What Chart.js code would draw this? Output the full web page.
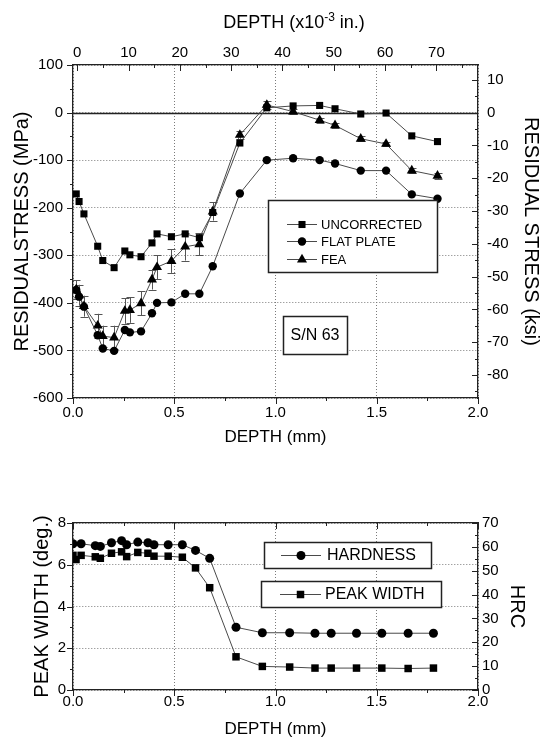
<!DOCTYPE html>
<html>
<head>
<meta charset="utf-8">
<script src="https://cdn.jsdelivr.net/npm/chart.js@4.4.1/dist/chart.umd.min.js"></script>
<style>
    html, body { margin: 0; padding: 0; background: #fff; }
    canvas { position: absolute; left: 0; }
    #stressChart { top: 0; }
    #hardChart { top: 460px; }
</style>
</head>
<body>
<canvas id="stressChart" width="542" height="460"></canvas>
<canvas id="hardChart" width="542" height="285"></canvas>
<script>
Chart.defaults.font.family = "'Liberation Sans', Arial, Helvetica, sans-serif";
Chart.defaults.color = '#000';

// Residual stress vs depth (mm), stress in MPa
const stressDepth = [0.016, 0.03, 0.054, 0.122, 0.147, 0.203, 0.256, 0.281, 0.336, 0.39, 0.415, 0.486,
    0.554, 0.624, 0.69, 0.824, 0.957, 1.087, 1.218, 1.294, 1.421, 1.546, 1.673, 1.8];
const uncorrected = [-171, -187, -213, -281, -311, -326, -291, -299, -303, -274, -255, -261,
    -255, -263, -210, -64, 10, 14, 15, 8, -3, -1, -49, -61];
const flatPlate = [-373, -387, -408, -468, -496, -501, -457, -462, -460, -422, -400, -399,
    -381, -381, -323, -170, -100, -96, -100, -107, -122, -122, -172, -181];
const fea = [-372, -384, -407, -448, -470, -473, -417, -415, -401, -351, -325, -312,
    -282, -277, -208, -47, 16, 2, -16, -27, -55, -66, -122, -133];
const feaError = [20, 22, 22, 25, 22, 25, 27, 27, 25, 21, 25, 25,
    29, 23, 19, 8, 9, 5, 5, 5, 5, 5, 6, 6];

// Hardness (HRC) and peak width (deg.) vs depth (mm)
const hardnessDepth = [0.0, 0.04, 0.11, 0.135, 0.19, 0.24, 0.265, 0.32, 0.37, 0.40, 0.47, 0.54,
    0.605, 0.675, 0.805, 0.935, 1.07, 1.195, 1.275, 1.4, 1.525, 1.655, 1.78];
const hardness = [61.3, 61.3, 60.5, 60.2, 61.7, 62.6, 60.9, 62.0, 61.7, 60.9, 60.9, 60.9,
    58.5, 55.2, 26.3, 24.0, 24.0, 23.8, 23.8, 23.8, 23.8, 23.8, 23.8];
const widthDepth = [0.0, 0.015, 0.04, 0.11, 0.135, 0.19, 0.24, 0.265, 0.32, 0.37, 0.40, 0.47,
    0.54, 0.605, 0.675, 0.805, 0.935, 1.07, 1.195, 1.275, 1.4, 1.525, 1.655, 1.78];
const peakWidth = [6.45, 6.25, 6.45, 6.38, 6.31, 6.55, 6.62, 6.39, 6.59, 6.55, 6.41, 6.41,
    6.36, 5.85, 4.9, 1.59, 1.13, 1.1, 1.05, 1.05, 1.05, 1.05, 1.03, 1.05];

// axis tick values
const mmTicks = [0, 0.5, 1, 1.5, 2];
const mmMinor = [0.25, 0.75, 1.25, 1.75];
const milTicks = [0, 10, 20, 30, 40, 50, 60, 70];
const milMinor = [5, 15, 25, 35, 45, 55, 65, 75];
const mpaTicks = [-600, -500, -400, -300, -200, -100, 0, 100];
const mpaMinor = [-550, -450, -350, -250, -150, -50, 50];
const ksiTicks = [-80, -70, -60, -50, -40, -30, -20, -10, 0, 10];
const ksiMinor = [-85, -75, -65, -55, -45, -35, -25, -15, -5, 5];
const degTicks = [0, 2, 4, 6, 8];
const degMinor = [1, 3, 5, 7];
const hrcTicks = [0, 10, 20, 30, 40, 50, 60, 70];
const hrcMinor = [5, 15, 25, 35, 45, 55, 65];

const MPA_PER_KSI = 6.895;

function points(xs, ys) {
    return xs.map((x, i) => ({ x: x, y: ys[i] }));
}

function series(label, xs, ys, style, radius, extra) {
    return Object.assign({
        label: label,
        data: points(xs, ys),
        borderColor: '#4a4a4a',
        borderWidth: 1,
        pointStyle: style,
        pointRadius: radius,
        pointBackgroundColor: '#000',
        pointBorderColor: '#000',
        pointBorderWidth: 0,
        tension: 0
    }, extra || {});
}

function drawMarker(ctx, style, x, y, r) {
    ctx.beginPath();
    if (style === 'rect') {
        const s = r * Math.SQRT1_2;
        ctx.rect(x - s, y - s, 2 * s, 2 * s);
    } else if (style === 'triangle') {
        ctx.moveTo(x, y - r);
        ctx.lineTo(x + r * 0.866, y + r * 0.5);
        ctx.lineTo(x - r * 0.866, y + r * 0.5);
        ctx.closePath();
    } else {
        ctx.arc(x, y, r, 0, Math.PI * 2);
    }
    ctx.fill();
}

// tick marks on all four sides, major + minor, in or out
const frameTicks = {
    id: 'frameTicks',
    afterDraw(chart, args, opts) {
        const { ctx, chartArea: a } = chart;
        ctx.save();
        ctx.strokeStyle = '#222';
        ctx.lineWidth = 1;
        for (const ax of opts.axes) {
            const s = chart.scales[ax.id];
            const pos = s.options.position;
            const dir = ax.inward ? -1 : 1;
            const mark = (v, len) => {
                const p = Math.round(s.getPixelForValue(v)) + 0.5;
                ctx.beginPath();
                if (pos === 'left') { ctx.moveTo(a.left, p); ctx.lineTo(a.left - dir * len, p); }
                else if (pos === 'right') { ctx.moveTo(a.right, p); ctx.lineTo(a.right + dir * len, p); }
                else if (pos === 'top') { ctx.moveTo(p, a.top); ctx.lineTo(p, a.top - dir * len); }
                else { ctx.moveTo(p, a.bottom); ctx.lineTo(p, a.bottom + dir * len); }
                ctx.stroke();
            };
            ax.major.forEach(v => mark(v, 6));
            (ax.minor || []).forEach(v => mark(v, 3));
        }
        ctx.restore();
    }
};

// solid line at zero stress
const zeroLine = {
    id: 'zeroLine',
    beforeDatasetsDraw(chart, args, opts) {
        if (!opts.scale) return;
        const { ctx, chartArea: a } = chart;
        const y = Math.round(chart.scales[opts.scale].getPixelForValue(0)) + 0.5;
        ctx.save();
        ctx.strokeStyle = '#222';
        ctx.lineWidth = 1.3;
        ctx.beginPath();
        ctx.moveTo(a.left, y);
        ctx.lineTo(a.right, y);
        ctx.stroke();
        ctx.restore();
    }
};

// +/- error bars for datasets carrying an `errors` array
const errorBars = {
    id: 'errorBars',
    beforeDatasetsDraw(chart) {
        const ctx = chart.ctx;
        ctx.save();
        ctx.strokeStyle = '#555';
        ctx.lineWidth = 1;
        chart.data.datasets.forEach(ds => {
            if (!ds.errors) return;
            const xs = chart.scales[ds.xAxisID || 'x'];
            const ys = chart.scales[ds.yAxisID || 'y'];
            ds.data.forEach((pt, i) => {
                const x = Math.round(xs.getPixelForValue(pt.x)) + 0.5;
                const y1 = ys.getPixelForValue(pt.y + ds.errors[i]);
                const y2 = ys.getPixelForValue(pt.y - ds.errors[i]);
                ctx.beginPath();
                ctx.moveTo(x, y1); ctx.lineTo(x, y2);
                ctx.moveTo(x - 4, Math.round(y1) + 0.5); ctx.lineTo(x + 4, Math.round(y1) + 0.5);
                ctx.moveTo(x - 4, Math.round(y2) + 0.5); ctx.lineTo(x + 4, Math.round(y2) + 0.5);
                ctx.stroke();
            });
        });
        ctx.restore();
    }
};

// framed legends and notes inside the plot
const panelBoxes = {
    id: 'panelBoxes',
    afterDraw(chart, args, opts) {
        const ctx = chart.ctx;
        const family = Chart.defaults.font.family;
        ctx.save();
        for (const b of opts.boxes || []) {
            ctx.fillStyle = '#fff';
            ctx.fillRect(b.x, b.y, b.w, b.h);
            ctx.strokeStyle = '#222';
            ctx.lineWidth = 1.5;
            ctx.strokeRect(b.x + 0.5, b.y + 0.5, b.w, b.h);
            ctx.font = b.size + 'px ' + family;
            ctx.fillStyle = '#000';
            ctx.textBaseline = 'middle';
            if (b.note) {
                ctx.textAlign = 'center';
                ctx.fillText(b.note, b.x + b.w / 2, b.y + b.h / 2 + 1);
                continue;
            }
            for (const it of b.items) {
                const ds = chart.data.datasets[it.dataset];
                ctx.strokeStyle = '#4a4a4a';
                ctx.lineWidth = 1;
                ctx.beginPath();
                ctx.moveTo(b.line[0], it.y + 0.5);
                ctx.lineTo(b.line[1], it.y + 0.5);
                ctx.stroke();
                ctx.fillStyle = '#000';
                drawMarker(ctx, ds.pointStyle, (b.line[0] + b.line[1]) / 2, it.y + 0.5, ds.pointRadius);
                ctx.textAlign = 'left';
                ctx.fillText(ds.label, b.textX, it.y + 1);
            }
        }
        ctx.restore();
    }
};

// top axis title with a superscript exponent
const inchTitle = {
    id: 'inchTitle',
    afterDraw(chart, args, opts) {
        if (!opts.parts) return;
        const ctx = chart.ctx;
        const family = Chart.defaults.font.family;
        const big = opts.size + 'px ' + family;
        const small = Math.round(opts.size * 0.65) + 'px ' + family;
        const parts = [[opts.parts[0], big, 0], [opts.parts[1], small, -7], [opts.parts[2], big, 0]];
        ctx.save();
        ctx.fillStyle = '#000';
        ctx.textBaseline = 'alphabetic';
        ctx.textAlign = 'left';
        let total = 0;
        parts.forEach(p => { ctx.font = p[1]; total += ctx.measureText(p[0]).width; });
        let x = opts.x - total / 2;
        parts.forEach(p => {
            ctx.font = p[1];
            ctx.fillText(p[0], x, opts.y + p[2]);
            x += ctx.measureText(p[0]).width;
        });
        ctx.restore();
    }
};

function linearAxis(position, min, max, ticks, opts) {
    return {
        type: 'linear',
        position: position,
        min: min,
        max: max,
        afterBuildTicks: s => { s.ticks = ticks.map(v => ({ value: v })); },
        afterFit: s => {
            if (s.isHorizontal()) s.height = opts.size; else s.width = opts.size;
        },
        grid: {
            display: true,
            drawTicks: false,
            drawOnChartArea: !!opts.grid,
            color: '#7a7a7a',
            lineWidth: 1
        },
        border: { display: true, color: '#222', width: 1.3, dash: [1, 2] },
        ticks: {
            display: opts.labels !== false,
            font: { size: 15 },
            color: '#000',
            padding: opts.pad,
            callback: opts.fmt || (v => String(v))
        },
        title: opts.title ? {
            display: true,
            text: opts.title,
            font: { size: opts.titleSize || 17, lineHeight: 1 },
            color: '#000',
            padding: opts.titlePad
        } : { display: false }
    };
}

const baseOptions = {
    responsive: false,
    animation: false,
    devicePixelRatio: 1,
    layout: { padding: 0 },
    events: []
};

new Chart(document.getElementById('stressChart'), {
    type: 'line',
    data: {
        datasets: [
            series('UNCORRECTED', stressDepth, uncorrected, 'rect', 5),
            series('FLAT PLATE', stressDepth, flatPlate, 'circle', 4.2),
            series('FEA', stressDepth, fea, 'triangle', 5.8, { errors: feaError })
        ]
    },
    options: Object.assign({}, baseOptions, {
        scales: {
            x: linearAxis('bottom', 0, 2, mmTicks, {
                size: 62, grid: true, pad: 6, fmt: v => v.toFixed(1),
                title: 'DEPTH (mm)', titlePad: { bottom: 14 }
            }),
            xTop: linearAxis('top', -0.82, 78.1, milTicks, { size: 65, pad: 3 }),
            y: linearAxis('left', -600, 100, mpaTicks, {
                size: 73, grid: true, pad: 10,
                title: 'RESIDUALSTRESS (MPa)', titleSize: 20, titlePad: { top: 12 }
            }),
            yKsi: linearAxis('right', -600 / MPA_PER_KSI, 100 / MPA_PER_KSI, ksiTicks, {
                size: 64, pad: 9,
                title: 'RESIDUAL STRESS (ksi)', titleSize: 20, titlePad: { top: 1 }
            })
        },
        plugins: {
            legend: { display: false },
            tooltip: { enabled: false },
            zeroLine: { scale: 'y' },
            frameTicks: {
                axes: [
                    { id: 'x', major: mmTicks, minor: mmMinor },
                    { id: 'xTop', major: milTicks, minor: milMinor, inward: true },
                    { id: 'y', major: mpaTicks, minor: mpaMinor },
                    { id: 'yKsi', major: ksiTicks, minor: ksiMinor, inward: true }
                ]
            },
            panelBoxes: {
                boxes: [
                    {
                        x: 268, y: 200, w: 169, h: 72, size: 13,
                        line: [287, 317], textX: 321,
                        items: [{ dataset: 0, y: 224 }, { dataset: 1, y: 241 }, { dataset: 2, y: 259 }]
                    },
                    { x: 283, y: 316, w: 64, h: 38, size: 16, note: 'S/N 63' }
                ]
            },
            inchTitle: { parts: ['DEPTH (x10', '-3', ' in.)'], x: 294, y: 28, size: 18 }
        }
    }),
    plugins: [zeroLine, errorBars, frameTicks, panelBoxes, inchTitle]
});

new Chart(document.getElementById('hardChart'), {
    type: 'line',
    data: {
        datasets: [
            series('HARDNESS', hardnessDepth, hardness, 'circle', 4.5, { yAxisID: 'yHrc' }),
            series('PEAK WIDTH', widthDepth, peakWidth, 'rect', 5.3)
        ]
    },
    options: Object.assign({}, baseOptions, {
        scales: {
            x: linearAxis('bottom', 0, 2, mmTicks, {
                size: 55, grid: true, pad: 3, fmt: v => v.toFixed(1),
                title: 'DEPTH (mm)', titlePad: { bottom: 7 }
            }),
            xTop: linearAxis('top', 0, 2, mmTicks, { size: 63, labels: false, pad: 0 }),
            y: linearAxis('left', 0, 8, degTicks, {
                size: 73, grid: true, pad: 7,
                title: 'PEAK WIDTH (deg.)', titleSize: 20, titlePad: { top: 32 }
            }),
            yHrc: linearAxis('right', 0, 70, hrcTicks, {
                size: 64, pad: 4,
                title: 'HRC', titleSize: 20, titlePad: { top: 15 }
            })
        },
        plugins: {
            legend: { display: false },
            tooltip: { enabled: false },
            frameTicks: {
                axes: [
                    { id: 'x', major: mmTicks, minor: mmMinor },
                    { id: 'xTop', major: mmTicks, minor: mmMinor, inward: true },
                    { id: 'y', major: degTicks, minor: degMinor },
                    { id: 'yHrc', major: hrcTicks, minor: hrcMinor, inward: true }
                ]
            },
            panelBoxes: {
                boxes: [
                    {
                        x: 264, y: 82, w: 167, h: 26, size: 16,
                        line: [281, 321], textX: 327,
                        items: [{ dataset: 0, y: 95 }]
                    },
                    {
                        x: 261, y: 121, w: 180, h: 26, size: 16,
                        line: [280, 321], textX: 325,
                        items: [{ dataset: 1, y: 134 }]
                    }
                ]
            }
        }
    }),
    plugins: [frameTicks, panelBoxes]
});
</script>
</body>
</html>
